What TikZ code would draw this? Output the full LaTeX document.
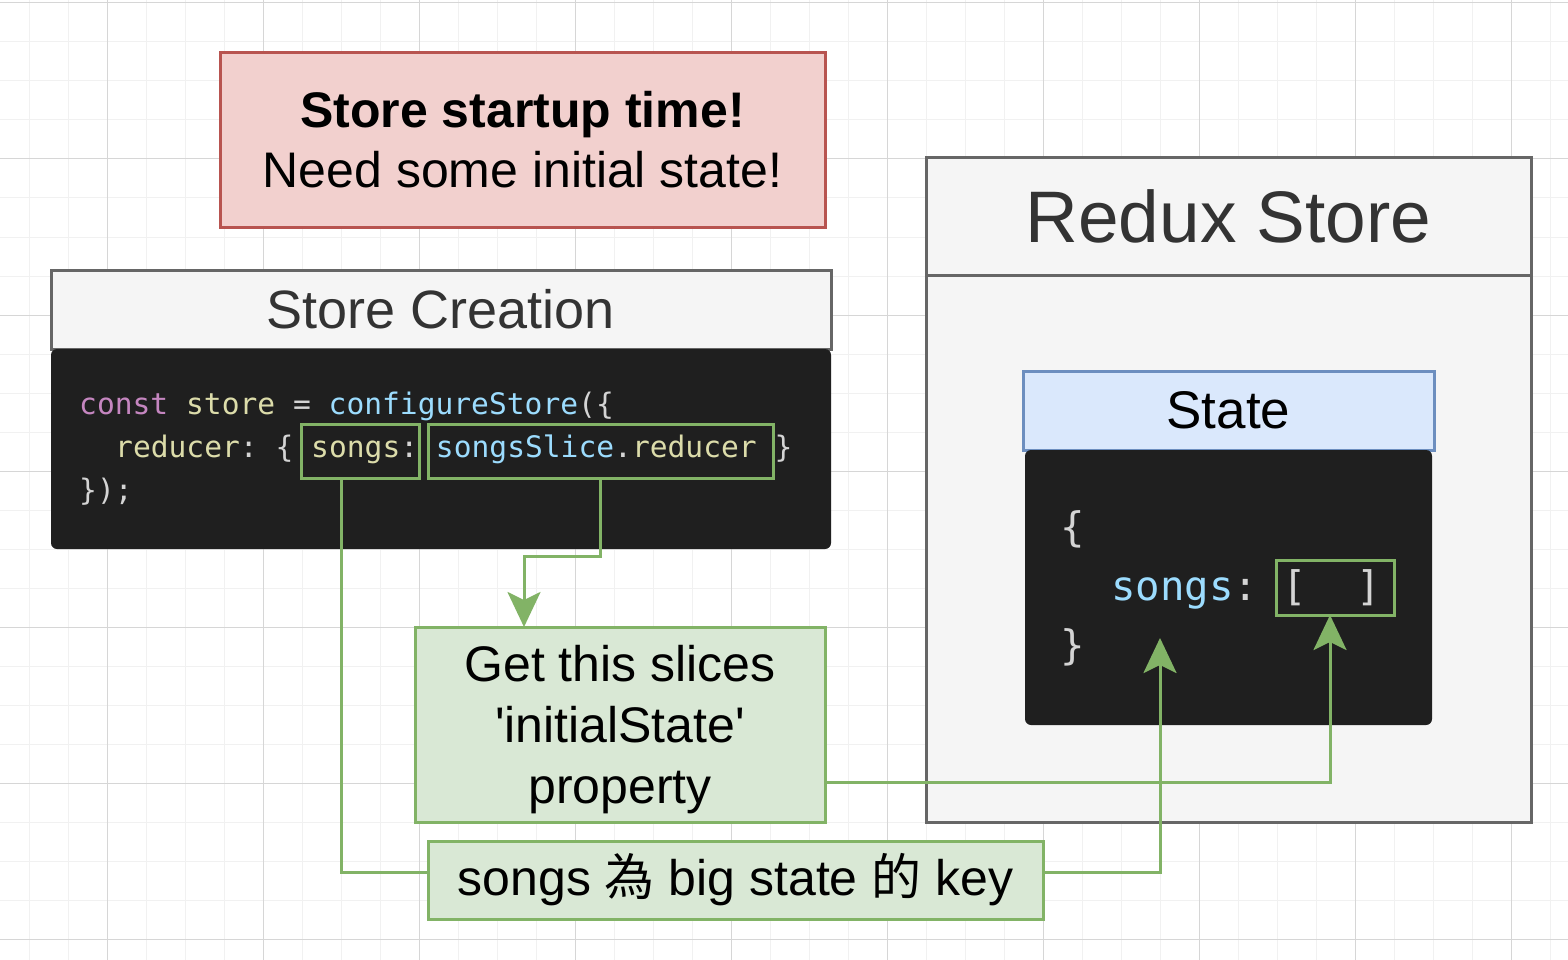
\documentclass[tikz,border=0pt]{standalone}
\usepackage{fontspec}
\setmainfont{Liberation Sans}
\newfontfamily\codefont{DejaVu Sans Mono}
\newfontfamily\cjk{Noto Sans CJK TC}
\usetikzlibrary{arrows.meta, positioning}
\definecolor{gridthin}{HTML}{F1F1F1}
\definecolor{gridthick}{HTML}{D6D6D6}
\definecolor{redline}{HTML}{B85450}
\definecolor{redfill}{HTML}{F2D0CE}
\definecolor{greyline}{HTML}{666666}
\definecolor{greyfill}{HTML}{F5F5F5}
\definecolor{blueline}{HTML}{6C8EBF}
\definecolor{bluefill}{HTML}{DAE8FC}
\definecolor{greenline}{HTML}{82B366}
\definecolor{greenfill}{HTML}{D9E8D5}
\definecolor{darkbg}{HTML}{1F1F1F}
\definecolor{titletext}{HTML}{333333}
\definecolor{kw}{HTML}{C586C0}
\definecolor{var}{HTML}{DCDCAA}
\definecolor{fn}{HTML}{9CDCFE}
\definecolor{pun}{HTML}{D4D4D4}
\tikzset{
  box/.style={rectangle, line width=3pt, inner sep=0pt, outer sep=0pt, align=center},
  startup/.style={box, draw=redline, fill=redfill, font=\fontsize{50}{60}\selectfont},
  headbox/.style={box, draw=greyline, fill=greyfill, text=titletext},
  statehead/.style={box, draw=blueline, fill=bluefill, font=\fontsize{53}{60}\selectfont},
  codebg/.style={rectangle, fill=darkbg, rounded corners=6pt, inner sep=0pt, outer sep=0pt},
  codeline/.style={anchor=base west, inner sep=0pt, text=pun},
  hlbox/.style={box, draw=greenline},
  note/.style={box, draw=greenline, fill=greenfill, font=\fontsize{50}{61}\selectfont},
  link/.style={greenline, line width=3pt},
  linkarrow/.style={link, -{Stealth[length=35pt, width=33pt, inset=8pt]}},
}

\begin{document}
\begin{tikzpicture}[x=1pt, y=-1pt]
\useasboundingbox (0,0) rectangle (1568,960);
\fill[white] (0,0) rectangle (1568,960);

% background grid
\foreach \gx in {29,68,...,1568} \draw[gridthin, line width=1pt] (\gx,0) -- (\gx,960);
\foreach \gy in {3,42,...,960} \draw[gridthin, line width=1pt] (0,\gy) -- (1568,\gy);
\foreach \gx in {107,263,...,1568} \draw[gridthick, line width=1pt] (\gx,0) -- (\gx,960);
\foreach \gy in {3,159,...,960} \draw[gridthick, line width=1pt] (0,\gy) -- (1568,\gy);

% note at the top
\node[startup, minimum width=605pt, minimum height=174pt] (startupnote) at (522.5,140)
  {\textbf{Store startup time!}\\Need some initial state!};

% store creation
\node[headbox, minimum width=780pt, minimum height=79pt, font=\fontsize{54}{60}\selectfont] (creation) at (441,309.5) {Store Creation};
\node[codebg, below=0pt of creation, minimum width=780pt, minimum height=200pt] (creationcode) {};
\begin{scope}[codeline/.append style={font=\codefont\fontsize{29.6}{35}\selectfont\frenchspacing}]
\node[codeline] (cline1) at (79,414) {\textcolor{kw}{const} \textcolor{var}{store} = \textcolor{fn}{configureStore}(\{};
\node[codeline] (cline2) at (115,457) {\textcolor{var}{reducer}: \{ \textcolor{var}{songs}: \textcolor{fn}{songsSlice}.\textcolor{var}{reducer} \}};
\node[codeline] (cline3) at (79,500) {\});};
\end{scope}
\node[hlbox, minimum width=118pt, minimum height=54pt] (songsmark) at (360,451) {};
\node[hlbox, minimum width=345pt, minimum height=54pt] (reducermark) at (600.5,451) {};

% redux store
\node[headbox, minimum width=605pt, minimum height=117pt, font=\fontsize{73}{80}\selectfont] (storehead) at (1228.5,216.5) {Redux Store};
\node[headbox, below=0pt of storehead, minimum width=605pt, minimum height=547pt] (storebody) {};
\node[statehead, minimum width=411pt, minimum height=79pt] (state) at (1228.5,410.5) {State};
\node[codebg, below=0pt of state, minimum width=407pt, minimum height=275pt] (statecode) {};
\begin{scope}[codeline/.append style={font=\codefont\fontsize{40.7}{48}\selectfont\frenchspacing}]
\node[codeline] (sline1) at (1060,541) {\{};
\node[codeline] (sline2) at (1111,600) {\textcolor{fn}{songs}: [\ \ ]};
\node[codeline] (sline3) at (1060,659) {\}};
\end{scope}
\node[hlbox, minimum width=118pt, minimum height=55pt] (arraymark) at (1335,587.5) {};
\coordinate (keyend) at (1160,638);

% notes at the bottom
\node[note, minimum width=410pt, minimum height=195pt] (slicenote) at (620,724.5)
  {\raisebox{-5pt}[\height][\depth]{\parbox{400pt}{\centering Get this slices\\\textquotesingle initialState\textquotesingle\\property}}};
\node[note, minimum width=615pt, minimum height=78pt] (keynote) at (735.5,880)
  {songs {\cjk 為} big state {\cjk 的} key};

% connectors
\draw[linkarrow] (reducermark.south) -- ++(0,78) -| ([xshift=-96pt]slicenote.north);
\draw[link] ([xshift=-19pt]songsmark.south) |- ([yshift=8pt]keynote.west);
\draw[linkarrow] ([yshift=8pt]keynote.east) -| (keyend);
\draw[linkarrow] ([yshift=-57.5pt]slicenote.east) -| ([xshift=-5pt]arraymark.south);
\end{tikzpicture}
\end{document}
